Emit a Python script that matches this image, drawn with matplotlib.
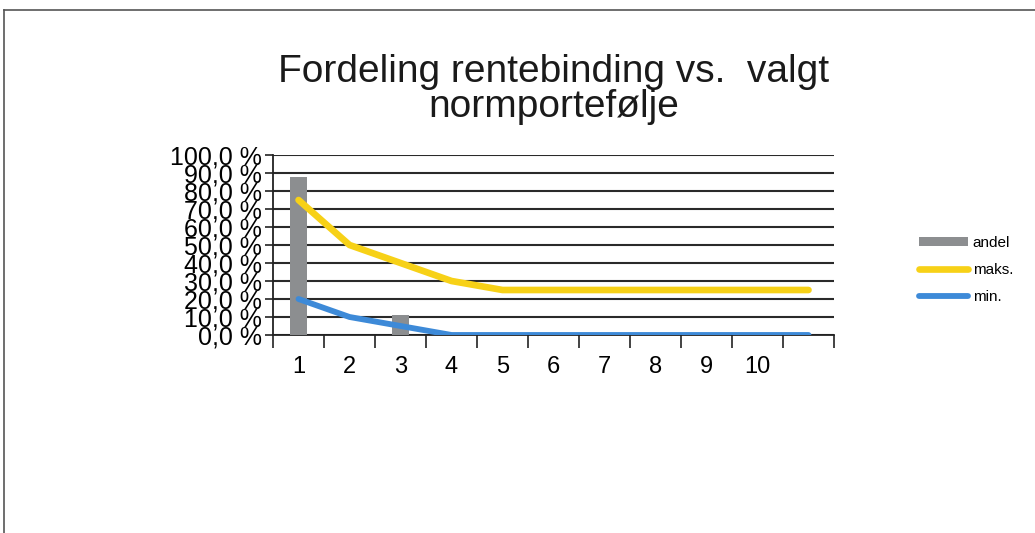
import matplotlib
matplotlib.use("Agg")
import matplotlib.pyplot as plt
from matplotlib.lines import Line2D
import numpy as np

plt.rcParams['font.family'] = ['Liberation Sans', 'DejaVu Sans']

# data
categories = ['1', '2', '3', '4', '5', '6', '7', '8', '9', '10', '']
andel = [88, 0, 11, 0, 0, 0, 0, 0, 0, 0, 0]
maks = [75, 50, 40, 30, 25, 25, 25, 25, 25, 25, 25]
minv = [20, 10, 5, 0, 0, 0, 0, 0, 0, 0, 0]
yticks = [0, 10, 20, 30, 40, 50, 60, 70, 80, 90, 100]

fig = plt.figure(figsize=(10.35, 5.33), dpi=100)
ax = fig.add_axes([0.2638, 0.3715, 0.542, 0.3377])

x = np.arange(len(categories))
b = ax.bar(x, andel, width=0.35, color='#8c8e90', label='andel', zorder=3)
l1, = ax.plot(x, maks, color='#f7d117', lw=4.8, solid_capstyle='round', label='maks.', zorder=4)
l2, = ax.plot(x, minv, color='#3d8ad8', lw=4.2, solid_capstyle='round', label='min.', zorder=4)

ax.set_xlim(-0.5, len(categories) - 0.5)
ax.set_ylim(0, 100)
ax.set_yticks(yticks)
ax.set_yticklabels(['%d,0 %%' % v for v in yticks], fontsize=18)
ax.set_xticks(x)
ax.set_xticklabels(categories, fontsize=17)
ax.tick_params(axis='x', length=0, pad=15)
ax.set_xticks(np.arange(-0.5, len(categories)), minor=True)
ax.tick_params(axis='x', which='minor', length=9, width=1.2, color='#222222')
ax.tick_params(axis='y', length=6, width=1.2, color='#222222', pad=2)

ax.grid(axis='y', color='#2a2a2a', lw=1.5, zorder=1)
for s in ['top', 'right']:
    ax.spines[s].set_visible(False)
ax.spines['left'].set_color('#222222')
ax.spines['bottom'].set_color('#222222')
ax.spines['left'].set_linewidth(1.3)
ax.spines['bottom'].set_linewidth(1.3)

fig.text(0.535, 0.832, 'Fordeling rentebinding vs.  valgt\nnormportefølje',
         ha='center', va='center', fontsize=28, linespacing=0.97, color='#1a1a1a')

fig.legend([b, l1, l2], ['andel', 'maks.', 'min.'], loc='center left',
           bbox_to_anchor=(0.875, 0.494), frameon=False, fontsize=11,
           handlelength=3.2, handleheight=0.5, handletextpad=0.3, labelspacing=0.85)

# outer frame from the scan
fig.add_artist(Line2D([0.004, 1.0], [0.981, 0.981], color='#555555', lw=1.2))
fig.add_artist(Line2D([0.004, 0.004], [0.0, 0.981], color='#555555', lw=1.2))

fig.savefig('out.png', dpi=100)
